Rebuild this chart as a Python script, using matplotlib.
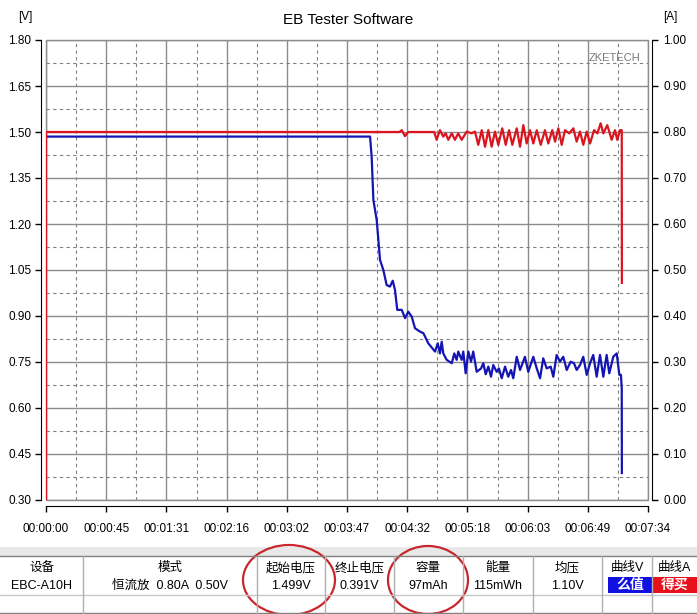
import numpy as np
import matplotlib
matplotlib.use('Agg')
import matplotlib.pyplot as plt
from matplotlib.patches import Rectangle, Ellipse

plt.rcParams['font.family'] = ['Liberation Sans', 'Noto Sans CJK SC', 'DejaVu Sans']

# voltage curve (time in s, volts)
volt_t = [0, 244.4, 245.6, 246.9, 249.4, 251.9, 254.4, 256.9, 259.4, 261.5, 263.2, 264.9,
          268.3, 270.8, 273.2, 275.8, 278.3, 282.1, 284.6, 288.3, 293.4, 295.4, 297.1, 298.4,
          299.6, 302.2, 306.0, 307.9, 309.7, 310.9, 313.5, 314.7, 316.5, 318.5, 320.5, 322.2,
          324.8, 328.1, 329.8, 331.6, 333.6, 335.6, 337.3, 339.9, 341.6, 343.7, 346.2, 348.6,
          350.7, 352.4, 355.0, 357.5, 361.2, 363.7, 367.5, 370.1, 372.6, 375.0, 377.6, 380.6,
          382.6, 385.1, 387.6, 390.1, 392.7, 395.7, 398.2, 400.2, 402.7, 405.2, 407.8, 410.3,
          412.7, 415.3, 417.8, 420.3, 422.8, 424.8, 427.8, 430.4, 432.4, 433.6, 434.2, 434.3]
volt_v = [1.485, 1.485, 1.419, 1.278, 1.213, 1.083, 1.050, 1.001, 0.996, 1.015, 0.985, 0.920,
          0.920, 0.893, 0.914, 0.898, 0.860, 0.849, 0.844, 0.811, 0.784, 0.811, 0.778, 0.816,
          0.778, 0.757, 0.746, 0.778, 0.757, 0.784, 0.757, 0.784, 0.713, 0.784, 0.751, 0.784,
          0.718, 0.729, 0.746, 0.710, 0.735, 0.702, 0.740, 0.718, 0.729, 0.697, 0.735, 0.702,
          0.724, 0.697, 0.767, 0.724, 0.767, 0.718, 0.767, 0.729, 0.697, 0.762, 0.729, 0.735,
          0.702, 0.773, 0.751, 0.767, 0.724, 0.751, 0.746, 0.724, 0.740, 0.767, 0.708, 0.746,
          0.773, 0.702, 0.773, 0.702, 0.773, 0.713, 0.767, 0.778, 0.708, 0.708, 0.665, 0.388]

# current curve (time in s, amps)
amp_t = [0, 0, 266.5, 268.3, 270.7, 273.2, 292.8, 294.6, 297.1, 299.6, 301.4, 303.4, 306.0,
         308.4, 310.9, 313.5, 317.3, 321.0, 323.5, 326.0, 328.6, 331.1, 333.6, 336.1, 338.6,
         341.1, 344.1, 346.7, 349.2, 351.7, 355.0, 357.5, 360.0, 362.5, 365.0, 367.5, 370.1,
         373.1, 376.3, 378.8, 381.8, 383.9, 386.4, 388.9, 391.4, 394.6, 397.7, 400.2, 402.7,
         405.2, 407.8, 410.3, 413.3, 415.8, 418.3, 420.3, 423.3, 426.6, 429.1, 430.8, 432.9,
         434.2, 434.3]
amp_a = [0.0, 0.80, 0.80, 0.804, 0.791, 0.80, 0.80, 0.783, 0.804, 0.790, 0.797, 0.783, 0.797,
         0.783, 0.797, 0.783, 0.801, 0.797, 0.801, 0.772, 0.804, 0.768, 0.804, 0.768, 0.801,
         0.772, 0.808, 0.772, 0.804, 0.772, 0.808, 0.768, 0.815, 0.775, 0.804, 0.775, 0.804,
         0.772, 0.804, 0.775, 0.804, 0.779, 0.808, 0.772, 0.804, 0.797, 0.808, 0.779, 0.801,
         0.772, 0.801, 0.775, 0.804, 0.797, 0.819, 0.797, 0.815, 0.783, 0.804, 0.783, 0.804,
         0.804, 0.472]

x_ticks = [0, 45.4, 90.8, 136.2, 181.6, 227.0, 272.4, 317.8, 363.2, 408.6, 454]
x_labels = ['00:00:00', '00:00:45', '00:01:31', '00:02:16', '00:03:02', '00:03:47',
            '00:04:32', '00:05:18', '00:06:03', '00:06:49', '00:07:34']
v_ticks = [0.30, 0.45, 0.60, 0.75, 0.90, 1.05, 1.20, 1.35, 1.50, 1.65, 1.80]
a_ticks = [0.0, 0.1, 0.2, 0.3, 0.4, 0.5, 0.6, 0.7, 0.8, 0.9, 1.0]

# summary table
headers = ['设备', '模式', '起始电压', '终止电压', '容量', '能量', '均压', '曲线V', '曲线A']
values = ['EBC-A10H', '恒流放  0.80A  0.50V', '1.499V', '0.391V', '97mAh', '115mWh', '1.10V', '', '']
col_edges = [0, 83, 257, 325, 394, 463, 533, 602, 652, 697]

fig = plt.figure(figsize=(6.97, 6.14), dpi=100)

# background layer in pixel coords for the table and labels
bg = fig.add_axes([0, 0, 1, 1])
bg.set_xlim(0, 697)
bg.set_ylim(614, 0)
bg.axis('off')

bg.add_patch(Rectangle((0, 547), 697, 9, color='#e8e8e8', lw=0))
bg.plot([0, 697], [556, 556], color='#808080', lw=1)
bg.plot([0, 697], [595, 595], color='#c8c8c8', lw=1)
bg.plot([0, 697], [613, 613], color='#808080', lw=1)
for e in col_edges[1:-1]:
    bg.plot([e, e], [556, 614], color='#b0b0b0', lw=1)
for i in range(len(headers)):
    cx = (col_edges[i] + col_edges[i + 1]) / 2
    bg.text(cx, 568, headers[i], ha='center', va='center', fontsize=9)
    if values[i]:
        bg.text(cx, 586, values[i], ha='center', va='center', fontsize=9)

# colour swatches for the curve columns
bg.add_patch(Rectangle((608, 577), 44, 16, color='#1010e0', lw=0))
bg.add_patch(Rectangle((652, 577), 45, 16, color='#e8101a', lw=0))
bg.text(630, 585, '么值', ha='center', va='center', fontsize=10, color='white', weight='bold')
bg.text(675, 585, '得买', ha='center', va='center', fontsize=10, color='white', weight='bold')

# red hand drawn circles
bg.add_patch(Ellipse((289, 580), 92, 70, fill=False, ec='#c8282d', lw=1.6))
bg.add_patch(Ellipse((428, 580), 80, 68, fill=False, ec='#c8282d', lw=1.6))

bg.text(348, 20, 'EB Tester Software', ha='center', va='center', fontsize=11)
bg.text(25, 17, '[V]', ha='center', va='center', fontsize=8.5)
bg.text(670, 17, '[A]', ha='center', va='center', fontsize=8.5)

# main chart
ax = fig.add_axes([46 / 697, 114 / 614, 602 / 697, 460 / 614])
ax.set_facecolor('white')
ax.set_xlim(0, 454)
ax.set_ylim(0.30, 1.80)
ax.set_xticks(x_ticks)
ax.set_xticklabels(x_labels)
ax.set_yticks(v_ticks)
ax.set_yticklabels(['%.2f' % v for v in v_ticks])
ax.set_xticks([(x_ticks[i] + x_ticks[i + 1]) / 2 for i in range(10)], minor=True)
ax.set_yticks([v + 0.075 for v in v_ticks[:-1]], minor=True)
ax.grid(which='major', color='#8c8c8c', lw=1, ls='-')
ax.grid(which='minor', color='#808080', lw=0.8, ls=(0, (3, 3)))
ax.tick_params(which='minor', length=0)
ax.tick_params(which='major', direction='out', length=4, width=1, labelsize=8.5)
ax.tick_params(axis='x', pad=8)
ax.tick_params(axis='y', pad=3)
for s in ['top', 'right']:
    ax.spines[s].set_visible(False)
ax.spines['left'].set_position(('outward', 3.6))
ax.spines['bottom'].set_position(('outward', 4.3))
ax.add_patch(Rectangle((0, 0), 1, 1, transform=ax.transAxes, fill=False,
                       ec='#8c8c8c', lw=1, clip_on=False, zorder=1))

ax.text(0.988, 0.96, 'ZKETECH', transform=ax.transAxes, ha='right', va='center',
        fontsize=8, color='#7a7a7a')

ax.plot(volt_t, volt_v, color='#1414b4', lw=1.6, zorder=3)

ax2 = ax.twinx()
ax2.set_ylim(0, 1.0)
ax2.set_yticks(a_ticks)
ax2.set_yticklabels(['%.2f' % a for a in a_ticks])
ax2.tick_params(direction='out', length=4, width=1, labelsize=8.5, pad=4)
for s in ['top', 'left', 'bottom']:
    ax2.spines[s].set_visible(False)
ax2.spines['right'].set_position(('outward', 3))
ax2.plot(amp_t, amp_a, color='#dc141e', lw=1.6, zorder=3)

plt.savefig('out.png', dpi=100)
